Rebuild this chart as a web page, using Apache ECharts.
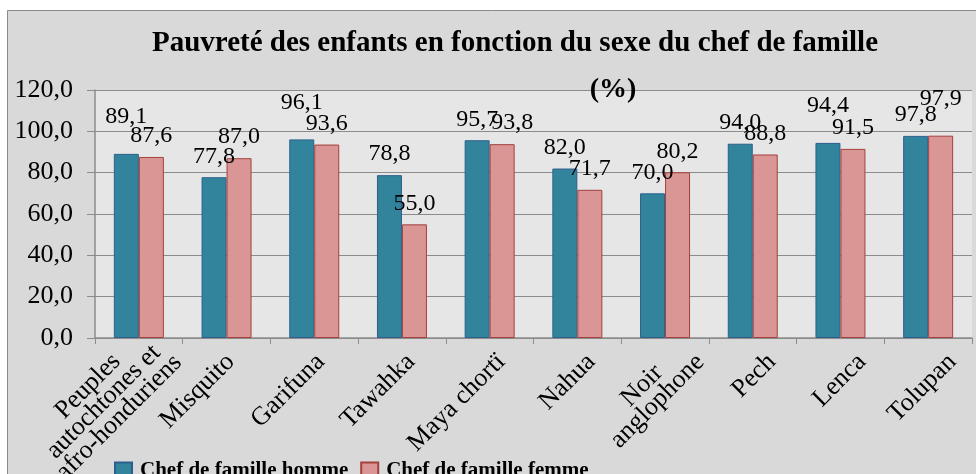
<!DOCTYPE html>
<html lang="fr">
<head>
    <meta charset="UTF-8">
    <title>Pauvreté des enfants</title>
    <script src="https://cdn.jsdelivr.net/npm/echarts@6/dist/echarts.min.js"></script>
    <style>
        html, body { margin: 0; padding: 0; background: #fff; }
        #chart { width: 976px; height: 474px; }
    </style>
</head>
<body>
    <div id="chart"></div>
    <script>
        // données
        const categories = ['Peuples\nautochtones et\nafro-honduriens', 'Misquito', 'Garifuna', 'Tawahka',
            'Maya chortï', 'Nahua', 'Noir\nanglophone', 'Pech', 'Lenca', 'Tolupan'];
        const homme = [89.1, 77.8, 96.1, 78.8, 95.7, 82.0, 70.0, 94.0, 94.4, 97.8];
        const femme = [87.6, 87.0, 93.6, 55.0, 93.8, 71.7, 80.2, 88.8, 91.5, 97.9];
        const yTicks = [0, 20, 40, 60, 80, 100, 120];

        // étiquettes placées plus haut dans l'original
        const raisedHomme = [0, 2, 8];
        const raisedFemme = [9];

        const serif = '"Liberation Serif", "DejaVu Serif", serif';
        const fmt = v => v.toFixed(1).replace('.', ',');

        function items(values, raised, shifted) {
            return values.map((v, i) => {
                let off = [0, 0];
                if (raised.indexOf(i) >= 0) off[1] = -16;
                if (shifted && shifted[i]) off[0] = shifted[i];
                return { value: v, label: { offset: off } };
            });
        }

        // les étiquettes de l'axe dérivent un peu vers la droite dans l'original
        const xData = categories.map((c, i) => {
            const n = c.split('\n').length;
            const sx = 2.5 * i - 17.5;
            const r = sx / 1.414 + 5 + 13 * (n - 1);
            const d = sx / 1.414 - 4 + 2.5 * (n - 1);
            return { value: c, textStyle: { padding: [52 + 2 * d, -r, 0, 0] } };
        });

        let myChart = echarts.init(document.getElementById('chart'));
        let option = {
            backgroundColor: '#fff',
            animation: false,
            graphic: [{
                type: 'rect',
                z: -10,
                shape: { x: 7.5, y: 10.5, width: 980, height: 480 },
                style: { fill: '#d9d9d9', stroke: '#8a8a8a', lineWidth: 1 }
            }, {
                type: 'text',
                z: 100,
                x: 515,
                y: 44,
                style: {
                    text: 'Pauvreté des enfants en fonction du sexe du chef de famille',
                    font: 'bold 29px ' + serif, fill: '#000', align: 'center', verticalAlign: 'middle'
                }
            }, {
                type: 'text',
                z: 100,
                x: 613,
                y: 90,
                style: { text: '(%)', font: 'bold 28px ' + serif, fill: '#000', align: 'center', verticalAlign: 'middle' }
            }],
            legend: {
                data: ['Chef de famille homme', 'Chef de famille femme'],
                left: 109,
                top: 455,
                icon: 'rect',
                itemWidth: 17,
                itemHeight: 16,
                itemGap: 12,
                textStyle: { fontFamily: serif, fontSize: 21, fontWeight: 'bold', color: '#000', padding: [0, 0, 0, 3] }
            },
            grid: {
                left: 95,
                right: 4,
                top: 90,
                bottom: 136,
                outerBoundsMode: 'none',
                show: true,
                backgroundColor: '#e6e6e6',
                borderWidth: 0
            },
            xAxis: {
                type: 'category',
                data: xData,
                axisLine: { lineStyle: { color: '#8c8c8c', width: 1.5 } },
                axisTick: { show: true, length: 6, lineStyle: { color: '#8c8c8c' } },
                axisLabel: {
                    interval: 0,
                    rotate: 45,
                    margin: 8,
                    color: '#000',
                    formatter: v => v.split('\n').map(l => '{c|' + l + '}').join('\n'),
                    rich: {
                        c: { align: 'center', fontFamily: serif, fontSize: 26, lineHeight: 22, color: '#000' }
                    }
                }
            },
            yAxis: {
                type: 'value',
                min: 0,
                max: 120,
                interval: 20,
                axisLine: { show: true, lineStyle: { color: '#8c8c8c', width: 1.5 } },
                axisTick: { show: true, length: 8, lineStyle: { color: '#8c8c8c' } },
                splitLine: { lineStyle: { color: '#8c8c8c', width: 1.2 } },
                axisLabel: {
                    margin: 22,
                    fontFamily: serif,
                    fontSize: 26,
                    color: '#000',
                    formatter: v => yTicks.indexOf(v) >= 0 ? fmt(v) : ''
                }
            },
            series: [{
                name: 'Chef de famille homme',
                type: 'bar',
                barGap: '0%',
                barCategoryGap: '43%',
                itemStyle: { color: '#31849b', borderColor: '#2d5f8e', borderWidth: 1 },
                label: {
                    show: true,
                    position: 'top',
                    distance: 9,
                    fontFamily: serif,
                    fontSize: 24,
                    color: '#000',
                    formatter: p => fmt(p.value)
                },
                data: items(homme, raisedHomme)
            }, {
                name: 'Chef de famille femme',
                type: 'bar',
                itemStyle: { color: '#d99694', borderColor: '#a5403d', borderWidth: 1 },
                label: {
                    show: true,
                    position: 'top',
                    distance: 9,
                    fontFamily: serif,
                    fontSize: 24,
                    color: '#000',
                    formatter: p => fmt(p.value)
                },
                data: items(femme, raisedFemme, { 4: 10 })
            }]
        };
        myChart.setOption(option);
    </script>
</body>
</html>
